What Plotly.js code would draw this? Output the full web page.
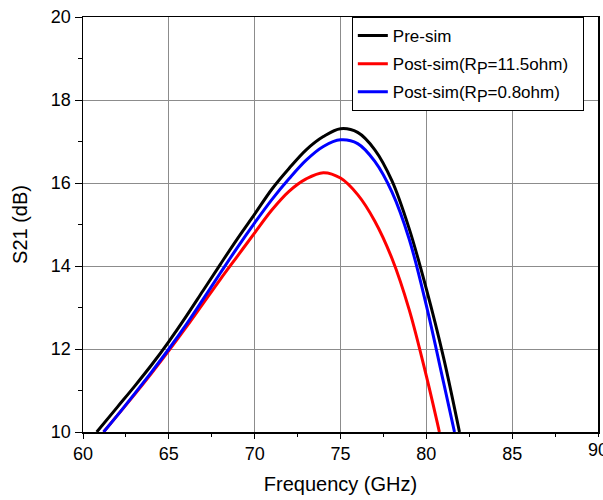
<!DOCTYPE html>
<html>
<head>
<meta charset="utf-8">
<script src="https://cdn.plot.ly/plotly-3.0.1.min.js"></script>
<style>html,body{margin:0;padding:0;background:#fff;}#chart{width:603px;height:500px;}</style>
</head>
<body>
<div id="chart"></div>
<script>
// Pre-sim (black)
const preFreq = [60.8, 62, 63, 64, 65, 66, 67, 68, 69, 70, 71, 72, 73, 74, 75, 76, 77, 78, 79, 80, 81, 81.93];
const preS21  = [10.0, 10.6, 11.1, 11.62, 12.18, 12.78, 13.41, 14.04, 14.66, 15.25, 15.85, 16.35, 16.8, 17.12, 17.31, 17.22, 16.8, 16.05, 14.9, 13.45, 11.8, 10.0];
// Post-sim Rp=11.5ohm (red)
const redFreq = [61.2, 62, 63, 64, 65, 66, 67, 68, 69, 70, 71, 72, 73, 74, 75, 76, 77, 78, 79, 80, 80.76];
const redS21  = [10.0, 10.4, 10.9, 11.42, 11.96, 12.52, 13.1, 13.68, 14.24, 14.8, 15.35, 15.8, 16.1, 16.25, 16.12, 15.72, 15.08, 14.18, 12.95, 11.35, 10.0];
// Post-sim Rp=0.8ohm (blue)
const blueFreq = [61.2, 62, 63, 64, 65, 66, 67, 68, 69, 70, 71, 72, 73, 74, 75, 76, 77, 78, 79, 80, 81, 81.64];
const blueS21  = [10.0, 10.4, 10.92, 11.45, 12.0, 12.58, 13.2, 13.83, 14.45, 15.04, 15.6, 16.1, 16.55, 16.88, 17.04, 16.95, 16.52, 15.78, 14.65, 13.05, 11.2, 10.0];

const sub = '<sub><span style="font-size:16px">P</span></sub>';
const names = ['Pre-sim', 'Post-sim(R' + sub + '=11.5ohm)\u00a0\u00a0', 'Post-sim(R' + sub + '=0.8ohm)'];
const xTicks = [60, 65, 70, 75, 80, 85];
const yTicks = [10, 12, 14, 16, 18, 20];

const traces = [
  {x: preFreq, y: preS21, name: names[0], legendgroup: 'a', mode: 'lines', line: {color: '#000000', width: 3, shape: 'spline'}},
  {x: redFreq, y: redS21, name: names[1], legendgroup: 'b', mode: 'lines', line: {color: '#ff0000', width: 3, shape: 'spline'}},
  {x: blueFreq, y: blueS21, name: names[2], legendgroup: 'c', mode: 'lines', line: {color: '#0000ff', width: 3, shape: 'spline'}}
];

const fam = 'Liberation Sans, Arial, sans-serif';

const layout = {
  width: 603, height: 500,
  margin: {l: 83, r: 5, t: 17, b: 68},
  paper_bgcolor: '#fff', plot_bgcolor: '#fff',
  font: {family: fam, color: '#000'},
  showlegend: true,
  legend: {
    x: 0.522, y: 1, xanchor: 'left', yanchor: 'top',
    bgcolor: '#fff', bordercolor: '#000', borderwidth: 1,
    font: {family: fam, size: 17, color: '#000'},
    tracegroupgap: 3
  },
  xaxis: {
    range: [60, 90], tickvals: xTicks, ticktext: xTicks.map(String),
    showline: true, linecolor: '#000', linewidth: 1.5, mirror: true,
    ticks: 'outside', ticklen: 5, tickwidth: 1, tickcolor: '#000',
    minor: {ticks: 'outside', ticklen: 3, tickwidth: 1, tickcolor: '#000', dtick: 2.5, showgrid: false},
    showgrid: true, gridcolor: '#8c8c8c', gridwidth: 1,
    zeroline: false,
    tickfont: {family: fam, size: 18, color: '#000'},
    title: {text: 'Frequency (GHz)', font: {family: fam, size: 20, color: '#000'}, standoff: 14}
  },
  yaxis: {
    range: [10, 20], tickvals: yTicks, ticktext: yTicks.map(String),
    showline: true, linecolor: '#000', linewidth: 1.5, mirror: true,
    ticks: 'outside', ticklen: 7, tickwidth: 1, tickcolor: '#000',
    minor: {ticks: 'outside', ticklen: 4, tickwidth: 1, tickcolor: '#000', dtick: 1, showgrid: false},
    showgrid: true, gridcolor: '#8c8c8c', gridwidth: 1,
    zeroline: false,
    tickfont: {family: fam, size: 18, color: '#000'},
    title: {text: 'S21 (dB)', font: {family: fam, size: 20, color: '#000'}, standoff: 18}
  },
  annotations: [
    {x: 90, y: 10, xref: 'x', yref: 'y', text: '90', showarrow: false, xanchor: 'center', yanchor: 'top', yshift: -6,
     font: {family: fam, size: 18, color: '#000'}}
  ]
};

Plotly.newPlot('chart', traces, layout, {staticPlot: true, displayModeBar: false});
</script>
</body>
</html>
